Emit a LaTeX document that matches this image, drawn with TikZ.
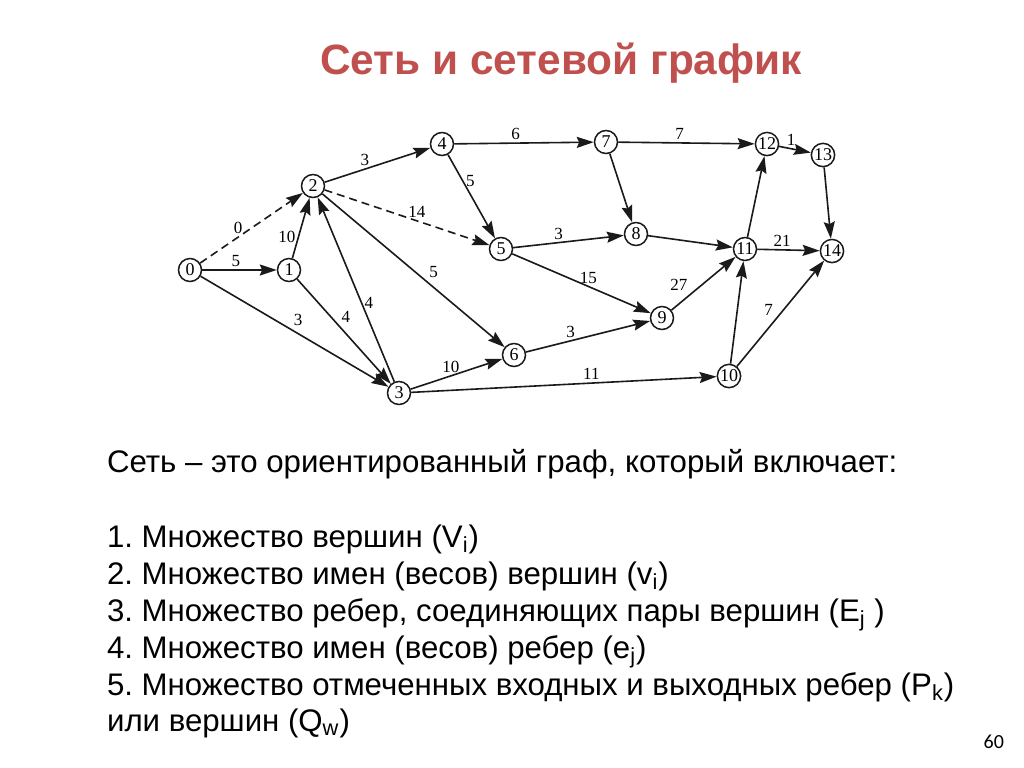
\documentclass[tikz,border=0pt]{standalone}
\usepackage{fontspec}
\setmainfont{Liberation Sans}
\newfontfamily\graphfont{Liberation Serif}
\newfontfamily\pagefont{Carlito}
\usetikzlibrary{arrows.meta}
\definecolor{titlered}{HTML}{C0504D}
\definecolor{inkgray}{HTML}{1A1A1A}
\frenchspacing

\begin{document}
\begin{tikzpicture}[x=0.5pt,y=-0.5pt,
  vtx/.style={draw=inkgray, circle, line width=0.75pt, minimum size=11.5pt,
    inner sep=0.3pt, font=\graphfont\fontsize{9}{9}\selectfont},
  arc/.style={draw=inkgray, line width=0.8pt,
    -{Stealth[length=8.5pt,width=5.5pt,inset=1.2pt]}},
  dummy/.style={arc, dash pattern=on 4pt off 2.5pt},
  wt/.style={font=\graphfont\fontsize{8.5}{8.5}\selectfont, inner sep=1.2pt},
  body/.style={anchor=base west, font=\fontsize{15.6}{18}\selectfont}
]
  \useasboundingbox (0,0) rectangle (1024,767);

  \node[anchor=base west, text=titlered,
    font=\bfseries\fontsize{21.2}{24}\selectfont] (title) at (313,74)
    {Сеть и сетевой график};

  \node[vtx] (v0) at (190,270) {0};
  \node[vtx] (v1) at (289,270) {1};
  \node[vtx] (v2) at (313,186) {2};
  \node[vtx] (v3) at (399,393) {3};
  \node[vtx] (v4) at (442,144) {4};
  \node[vtx] (v5) at (501,249) {5};
  \node[vtx] (v6) at (514,355) {6};
  \node[vtx] (v7) at (606,142) {7};
  \node[vtx] (v8) at (636,234) {8};
  \node[vtx] (v9) at (662,318) {9};
  \node[vtx] (v10) at (729,376) {10};
  \node[vtx] (v11) at (745,249) {11};
  \node[vtx] (v12) at (767,144) {12};
  \node[vtx] (v13) at (823,155) {13};
  \node[vtx] (v14) at (832,251) {14};

  \draw[dummy] (v0) -- node[wt, pos=0.37, above] {0} (v2);
  \draw[arc] (v0) -- node[wt, pos=0.45, above] {5} (v1);
  \draw[arc] (v0) -- node[wt, pos=0.48, above right] {3} (v3);
  \draw[arc] (v1) -- node[wt, pos=0.36, left] {10} (v2);
  \draw[arc] (v1) -- node[wt, pos=0.44, above right] {4} (v3);
  \draw[arc] (v3) -- node[wt, pos=0.43, right] {4} (v2);
  \draw[arc] (v2) -- node[wt, pos=0.38, above] {3} (v4);
  \draw[dummy] (v2) -- node[wt, pos=0.56, above] {14} (v5);
  \draw[arc] (v2) -- node[wt, pos=0.57, above right] {5} (v6);
  \draw[arc] (v3) -- node[wt, pos=0.44, above] {10} (v6);
  \draw[arc] (v3) -- node[wt, pos=0.59, above] {11} (v10);
  \draw[arc] (v4) -- node[wt, pos=0.44, above] {6} (v7);
  \draw[arc] (v4) -- node[wt, pos=0.32, right] {5} (v5);
  \draw[arc] (v7) -- node[wt, pos=0.45, above] {7} (v12);
  \draw[arc] (v7) -- (v8);
  \draw[arc] (v5) -- node[wt, pos=0.41, above] {3} (v8);
  \draw[arc] (v5) -- node[wt, pos=0.55, above] {15} (v9);
  \draw[arc] (v6) -- node[wt, pos=0.36, above] {3} (v9);
  \draw[arc] (v8) -- (v11);
  \draw[arc] (v9) -- node[wt, pos=0.3, above left] {27} (v11);
  \draw[arc] (v10) -- (v11);
  \draw[arc] (v10) -- node[wt, pos=0.45, above left] {7} (v14);
  \draw[arc] (v11) -- (v12);
  \draw[arc] (v11) -- node[wt, pos=0.4, above] {21} (v14);
  \draw[arc] (v12) -- node[wt, pos=0.38, above] {1} (v13);
  \draw[arc] (v13) -- (v14);

  \node[body] (intro) at (100,472) {Сеть – это ориентированный граф, который включает:};
  \node[body] (item1) at (100,547) {1. Множество вершин (V\textsubscript{i})};
  \node[body] (item2) at (100,584) {2. Множество имен (весов) вершин (v\textsubscript{i})};
  \node[body] (item3) at (100,621) {3. Множество ребер, соединяющих пары вершин (E\textsubscript{j} )};
  \node[body] (item4) at (100,658) {4. Множество имен (весов) ребер (e\textsubscript{j})};
  \node[body] (item5) at (100,695) {5. Множество отмеченных входных и выходных ребер (P\textsubscript{k})};
  \node[body] (item6) at (100,731) {или вершин (Q\textsubscript{w})};

  \node[anchor=base east, font=\pagefont\fontsize{10}{12}\selectfont] (pageno)
    at (1011,748) {60};
\end{tikzpicture}
\end{document}
